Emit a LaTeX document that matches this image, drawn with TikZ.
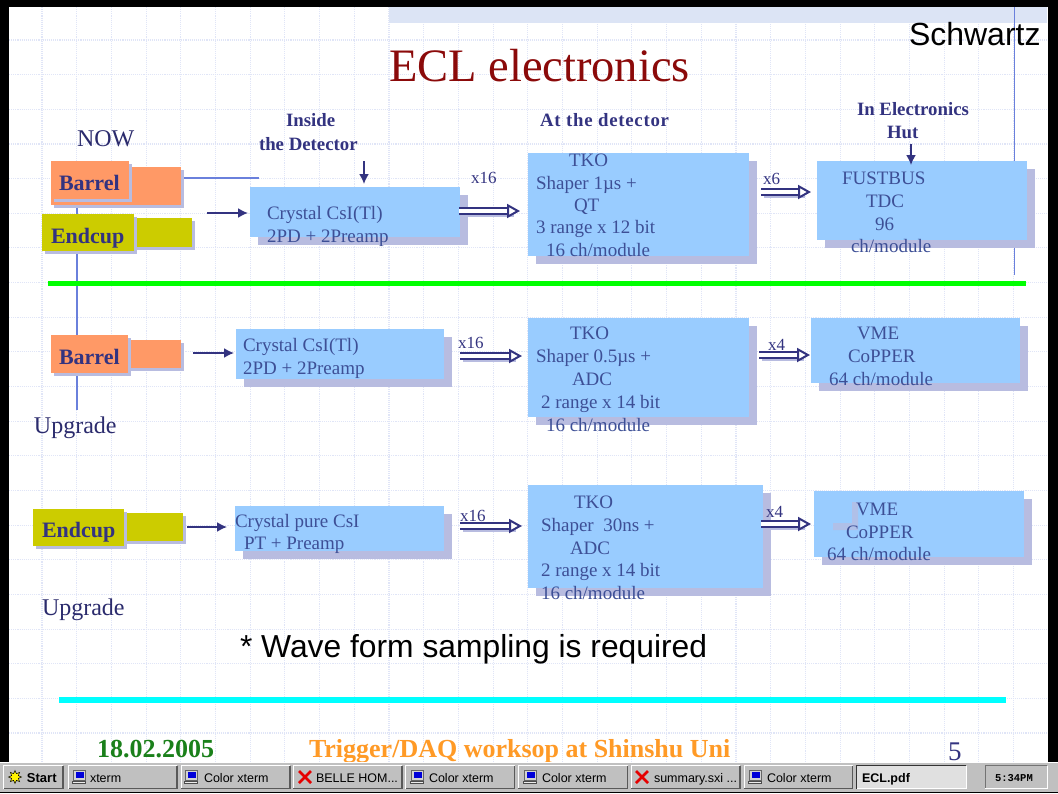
\documentclass[tikz,border=0pt]{standalone}
\usepackage{fontspec}
\setmainfont{Liberation Serif}
\newfontfamily\arialf{Liberation Sans}
\newfontfamily\monof{Liberation Mono}
\usetikzlibrary{arrows.meta,calc,shapes.geometric}
\definecolor{ink}{HTML}{333380}
\definecolor{boxink}{HTML}{3D4F96}
\definecolor{boxblue}{HTML}{99CCFF}
\definecolor{shad}{HTML}{B8BCE0}
\definecolor{sorange}{HTML}{FF9966}
\definecolor{syellow}{HTML}{CCCC00}
\definecolor{gridc}{HTML}{E0E5F7}
\definecolor{vline}{HTML}{6A80DC}
\definecolor{tbar}{HTML}{C0C0C0}
\definecolor{cyanrule}{RGB}{0,255,255}
\definecolor{greenrule}{RGB}{0,255,0}
\definecolor{band}{HTML}{DCE4F5}
\definecolor{titlered}{HTML}{8B0A0A}
\definecolor{footgreen}{HTML}{1A801A}
\definecolor{footorange}{HTML}{FF9A26}
\tikzset{
  every node/.style={inner sep=0pt,outer sep=0pt},
  rct/.style={rectangle,anchor=north west},
  txt/.style={anchor=base west,text=boxink,font=\fontsize{19}{22}\selectfont},
  hd/.style={anchor=base west,text=ink,font=\fontsize{18.8}{22}\selectfont\bfseries},
  mult/.style={anchor=base west,text=ink,font=\fontsize{17}{20}\selectfont},
  big/.style={anchor=base west,text=ink!85!black,font=\fontsize{24}{26}\selectfont},
  part/.style={anchor=base west,text=ink,font=\fontsize{22}{26}\selectfont\bfseries},
  thin arrow/.style={draw=ink,line width=1.7pt,-{Latex[length=10pt,width=10pt]}},
  fat arrow/.style={draw=ink,double=white,double distance=3.6pt,line width=2.2pt,-{Triangle[open,fill=white,length=13pt,width=14pt,line width=2pt]}},
  fat shadow/.style={draw=shad,line width=8pt},
  rule line/.style={draw=vline,line width=1.4pt},
  tbtn/.style={anchor=base west,text=black,font=\fontsize{12.5}{14}\arialf},
}
% box with offset shadow: name, x1, y1, x2, y2, colour, shadow offset
\newcommand{\shbox}[7]{%
  \node[rct,fill=shad,minimum width={(#4-#2)*1pt},minimum height={(#5-#3)*1pt}] (#1-s) at (#2+#7,#3+#7) {};
  \node[rct,fill=#6,minimum width={(#4-#2)*1pt},minimum height={(#5-#3)*1pt}] (#1) at (#2,#3) {};
}
\newcommand{\tl}[5][txt]{\node[#1] (#2) at (#3,#4) {#5};}
\newcommand{\fatarrow}[2]{%
  \draw[fat shadow] ($(#1)+(3,2)$) -- ($(#2)+(-6,2)$);
  \draw[fat arrow] (#1) -- (#2);}
% taskbar button
\newcommand{\tbutton}[3]{%
  \node[rct,fill=tbar,minimum width={(#3-#2)*1pt},minimum height=23pt] (#1) at (#2,765.5) {};
  \draw[white,line width=1pt] (#1.south west) -- (#1.north west) -- (#1.north east);
  \draw[black!65,line width=1.4pt] (#1.north east) -- (#1.south east) -- (#1.south west);
}
\newcommand{\compicon}[1]{%
  \begin{scope}[shift={(#1,777)}]
    \fill[black!60] (-6,-7) rectangle (7,5);
    \fill[tbar!70!white] (-5,-6) rectangle (6,3);
    \fill[blue!85!black] (-3,-5) rectangle (5,1);
    \fill[black!70] (-7,4) rectangle (7,7);
    \fill[white!85!gray] (-6,5) rectangle (6,6);
  \end{scope}}
\newcommand{\xicon}[1]{%
  \draw[red!90!black,line width=2.6pt] (#1-6,771) -- (#1+6,783) (#1+6,771) -- (#1-6,783);}
\begin{document}
\begin{tikzpicture}[x=1pt,y=-1pt]
\useasboundingbox (0,0) rectangle (1058,793);
\fill[white] (0,0) rectangle (1058,793);
% grid
\foreach \k in {0,...,29} \draw[gridc,line width=1.1pt,densely dotted] ({42+34.7*\k},7) -- ({42+34.7*\k},762);
\foreach \k in {0,...,20} \draw[gridc,line width=1.1pt,densely dotted] (9,{40+34.65*\k}) -- (1047,{40+34.65*\k});
% dithered band
\fill[band] (389,7) rectangle (1047,23);
% frame
\fill[black] (0,0) rectangle (1058,7);
\fill[black] (0,0) rectangle (9,793);
\fill[black] (1047.5,0) rectangle (1058,793);
% guide lines
\coordinate (la) at (77,205);
\coordinate (lb) at (77,410);
\coordinate (ra) at (1014.5,7);
\coordinate (rb) at (1014.5,275);
\coordinate (ha) at (183,178);
\coordinate (hb) at (259,178);
\draw[rule line] (la) -- (lb);
\draw[rule line] (ra) -- (rb);
\draw[rule line] (ha) -- (hb);
% title
\tl[anchor=base west,text=titlered,font=\fontsize{46.5}{50}\selectfont]{title}{389}{81}{ECL electronics}
\tl[anchor=base west,text=black,font=\fontsize{32}{34}\arialf]{schw}{909}{45}{Schwartz}
% rules
\coordinate (ga) at (48,283.5);
\coordinate (gb) at (1026,283.5);
\draw[greenrule,line width=5.5pt] (ga) -- (gb);
\coordinate (ca) at (59,699.5);
\coordinate (cb) at (1006,699.5);
\draw[cyanrule,line width=6pt] (ca) -- (cb);
% left labels
\tl[big]{now}{77}{146}{NOW}
\tl[big]{upg1}{34}{433}{Upgrade}
\tl[big]{upg2}{42}{615}{Upgrade}
% heads
\tl[hd]{h1a}{286}{126}{Inside}
\tl[hd]{h1b}{259}{150}{the Detector}
\tl[hd]{h2}{540}{126}{\addfontfeature{LetterSpace=4}At the detector}
\tl[hd]{h3a}{857}{115}{In Electronics}
\tl[hd]{h3b}{887}{138}{Hut}
% row 1 parts
\shbox{bb1}{51}{167}{181}{205}{sorange}{3}
\shbox{bf1}{51}{161}{128.5}{199}{sorange}{3}
\tl[part]{bt1}{59}{190}{Barrel}
\shbox{eb1}{42}{218}{192}{247}{syellow}{3}
\shbox{ef1}{42}{214}{133.5}{251}{syellow}{3}
\tl[part]{et1}{51}{243}{Endcup}
% row 1 boxes
\shbox{cr1}{250}{187}{460}{237}{boxblue}{8}
\shbox{tk1}{528}{153}{749}{256}{boxblue}{8}
\shbox{fb1}{817}{161}{1027}{240}{boxblue}{8}
\tl{a1}{267}{219}{Crystal CsI(Tl)}
\tl{a2}{267}{242}{2PD + 2Preamp}
\tl{b1}{569}{166}{TKO}
\tl{b2}{536}{189}{Shaper 1µs +}
\tl{b3}{574}{211}{QT}
\tl{b4}{536}{233}{3 range x 12 bit}
\tl{b5}{546}{256}{16 ch/module}
\tl{c1}{842}{184}{FUSTBUS}
\tl{c2}{866}{207}{TDC}
\tl{c3}{875}{230}{96}
\tl{c4}{851}{252}{ch/module}
% row 1 arrows
\coordinate (i1) at (207,213);
\draw[thin arrow] (i1) -- ($(cr1.west |- i1)+(-2,0)$);
\coordinate (d1) at (364,161);
\draw[thin arrow] (d1) -- ($(d1 |- cr1.north)+(0,-3)$);
\coordinate (d2) at (911,144);
\draw[thin arrow] (d2) -- ($(d2 |- fb1.north)+(0,4)$);
\coordinate (f1a) at (459,211);
\coordinate (f1b) at (520,211);
\fatarrow{f1a}{f1b}
\coordinate (f2a) at (761,192);
\coordinate (f2b) at (811,192);
\fatarrow{f2a}{f2b}
\tl[mult]{m1}{471}{183}{x16}
\tl[mult]{m2}{763}{184}{x6}
% row 2
\shbox{bb2}{51}{340}{181}{368}{sorange}{3}
\shbox{bf2}{51}{335}{128}{373}{sorange}{3}
\tl[part]{bt2}{59}{364}{Barrel}
\shbox{cr2}{236}{329}{444}{379}{boxblue}{8}
\shbox{tk2}{528}{318}{749}{417}{boxblue}{8}
\shbox{vm2}{811}{318}{1020}{383}{boxblue}{8}
\tl{d1t}{243}{351}{Crystal CsI(Tl)}
\tl{d2t}{243}{374}{2PD + 2Preamp}
\tl{e1}{570}{339}{TKO}
\tl{e2}{536}{362}{Shaper 0.5µs +}
\tl{e3}{572}{385}{ADC}
\tl{e4}{541}{408}{2 range x 14 bit}
\tl{e5}{546}{431}{16 ch/module}
\tl{g1}{857}{339}{VME}
\tl{g2}{848}{362}{CoPPER}
\tl{g3}{829}{385}{64 ch/module}
\coordinate (i2) at (193,353);
\draw[thin arrow] (i2) -- ($(cr2.west |- i2)+(-2,0)$);
\coordinate (f3a) at (460,356);
\coordinate (f3b) at (522,356);
\fatarrow{f3a}{f3b}
\coordinate (f4a) at (759,355);
\coordinate (f4b) at (810,355);
\fatarrow{f4a}{f4b}
\tl[mult]{m3}{458}{348}{x16}
\tl[mult]{m4}{768}{350}{x4}
% row 3
\shbox{eb3}{33}{513}{183}{541}{syellow}{3}
\shbox{ef3}{33}{509}{124}{546}{syellow}{3}
\tl[part]{et3}{42}{537}{Endcup}
\shbox{cr3}{235}{506}{444}{551}{boxblue}{8}
\shbox{tk3}{528}{485}{763}{588}{boxblue}{8}
\shbox{vm3}{814}{491}{1024}{557}{boxblue}{8}
\fill[shad!75!boxblue] (852,502) rectangle (858,530) (833,523) rectangle (852,530);
\tl{j1}{235}{527}{Crystal pure CsI}
\tl{j2}{244}{549}{PT + Preamp}
\tl{k1}{574}{508}{TKO}
\tl{k2}{541}{531}{Shaper~ 30ns +}
\tl{k3}{570}{554}{ADC}
\tl{k4}{541}{576}{2 range x 14 bit}
\tl{k5}{541}{599}{16 ch/module}
\tl{l1}{856}{515}{VME}
\tl{l2}{846}{538}{CoPPER}
\tl{l3}{827}{560}{64 ch/module}
\coordinate (i3) at (187,527);
\draw[thin arrow] (i3) -- ($(cr3.west |- i3)+(-8,0)$);
\coordinate (f5a) at (460,526);
\coordinate (f5b) at (522,526);
\fatarrow{f5a}{f5b}
\coordinate (f6a) at (761,524);
\coordinate (f6b) at (811,524);
\fatarrow{f6a}{f6b}
\tl[mult]{m5}{460}{521}{x16}
\tl[mult]{m6}{766}{517}{x4}
% note
\tl[anchor=base west,text=black,font=\fontsize{31.8}{36}\arialf]{note}{240}{657}{* Wave form sampling is required}
% footer
\tl[anchor=base west,text=footgreen,font=\fontsize{26}{28}\selectfont\bfseries]{f1}{97}{757}{18.02.2005}
\tl[anchor=base west,text=footorange,font=\fontsize{26}{28}\selectfont\bfseries]{f2}{309}{757}{Trigger/DAQ worksop at Shinshu Uni}
\tl[anchor=base west,text=ink,font=\fontsize{27}{28}\selectfont]{f3}{948}{760}{5}
% taskbar
\fill[tbar] (0,762) rectangle (1058,793);
\draw[white,line width=1pt] (0,762.5) -- (1058,762.5);
\draw[black,line width=1.2pt] (0,792.4) -- (1058,792.4);
\tbutton{s0}{3.5}{63}
\tbutton{s1}{68.5}{177}
\tbutton{s2}{181}{290}
\tbutton{s3}{293}{402}
\tbutton{s4}{405.5}{514.5}
\tbutton{s5}{518}{627.5}
\tbutton{s6}{631}{740}
\tbutton{s7}{744}{852.5}
\node[rct,fill=black!12,minimum width=109.5pt,minimum height=23pt] (s8) at (856.5,765.5) {};
\draw[black!80,line width=1.4pt] (s8.south west) -- (s8.north west) -- (s8.north east);
\draw[white,line width=1pt] (s8.north east) -- (s8.south east) -- (s8.south west);
\node[rct,fill=tbar,minimum width=62pt,minimum height=23pt] (clk) at (985,765.5) {};
\draw[black!55,line width=1pt] (clk.south west) -- (clk.north west) -- (clk.north east);
\draw[white,line width=1pt] (clk.north east) -- (clk.south east) -- (clk.south west);
\node[star,star points=8,star point ratio=1.8,fill=yellow,draw=black,line width=.5pt,minimum size=13pt] (stari) at (15,777) {};
\tl[tbtn,font=\fontsize{13}{14}\arialf\bfseries]{s0t}{27}{782}{Start}
\compicon{79}\tl[tbtn]{s1t}{90}{782}{xterm}
\compicon{191}\tl[tbtn]{s2t}{204}{782}{Color xterm}
\xicon{305}\tl[tbtn]{s3t}{316}{782}{BELLE HOM...}
\compicon{417}\tl[tbtn]{s4t}{429}{782}{Color xterm}
\compicon{530}\tl[tbtn]{s5t}{542}{782}{Color xterm}
\xicon{642}\tl[tbtn]{s6t}{654}{782}{summary.sxi ...}
\compicon{755}\tl[tbtn]{s7t}{767}{782}{Color xterm}
\tl[tbtn,font=\fontsize{12.5}{14}\arialf\bfseries]{s8t}{862}{782}{ECL.pdf}
\tl[tbtn,font=\fontsize{10.5}{14}\monof\bfseries]{clkt}{995}{781}{5:34PM}
\end{tikzpicture}
\end{document}
